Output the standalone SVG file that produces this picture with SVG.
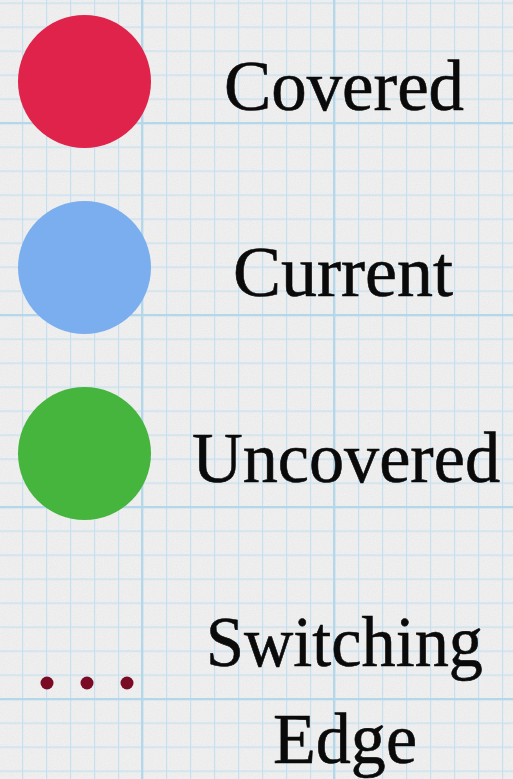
<svg xmlns="http://www.w3.org/2000/svg" width="513" height="779" viewBox="0 0 513 779">
  <defs>
    <style>
      .lbl { font-family: "Liberation Serif", "Times New Roman", serif; font-size: 72px; fill: #0a0a0a; stroke: #0a0a0a; stroke-width: 0.6px; text-anchor: middle; }
      .dot { fill: #7a0b25; }
    </style>
    <filter id="grain" x="0" y="0" width="100%" height="100%">
      <feTurbulence type="fractalNoise" baseFrequency="0.85" numOctaves="2" seed="7" result="n"/>
      <feColorMatrix in="n" type="matrix" values="0 0 0 0 0  0 0 0 0 0  0 0 0 0 0  0.33 0.33 0.33 0 -0.3"/>
    </filter>
    <pattern id="gridFine" patternUnits="userSpaceOnUse" x="22" y="2.5" width="24" height="24">
      <path d="M0.5 0V24M0 0.5H24" stroke="#c6e0ef" stroke-width="1.4" fill="none"/>
    </pattern>
    <pattern id="gridBold" patternUnits="userSpaceOnUse" x="141" y="122" width="192" height="192">
      <path d="M1 0V192M0 1H192" stroke="#b5d7ea" stroke-width="2.6" fill="none"/>
    </pattern>
  </defs>

  <g id="background">
    <rect width="513" height="779" fill="#f1f1f1"/>
    <rect width="513" height="779" filter="url(#grain)" opacity="0.08"/>
    <rect width="513" height="779" fill="url(#gridFine)"/>
    <rect width="513" height="779" fill="url(#gridBold)"/>
  </g>

  <g id="connectors"></g>

  <g id="covered">
    <circle cx="84.5" cy="81.5" r="66.5" fill="#e0234a"/>
    <text class="lbl" x="344" y="110" textLength="240" lengthAdjust="spacingAndGlyphs">Covered</text>
  </g>

  <g id="current">
    <circle cx="84.5" cy="267.5" r="66.5" fill="#7aaeee"/>
    <text class="lbl" x="343" y="296" textLength="220" lengthAdjust="spacingAndGlyphs">Current</text>
  </g>

  <g id="uncovered">
    <circle cx="84.5" cy="453.5" r="66.5" fill="#46b53e"/>
    <text class="lbl" x="346" y="482" textLength="308" lengthAdjust="spacingAndGlyphs">Uncovered</text>
  </g>

  <g id="switching-edge">
    <circle class="dot" cx="47" cy="683" r="6.5"/>
    <circle class="dot" cx="87" cy="683" r="6.5"/>
    <circle class="dot" cx="127" cy="683" r="6.5"/>
    <text class="lbl" x="344.5" y="666" textLength="277" lengthAdjust="spacingAndGlyphs">Switching</text>
    <text class="lbl" x="345" y="763" textLength="144" lengthAdjust="spacingAndGlyphs">Edge</text>
  </g>
</svg>
